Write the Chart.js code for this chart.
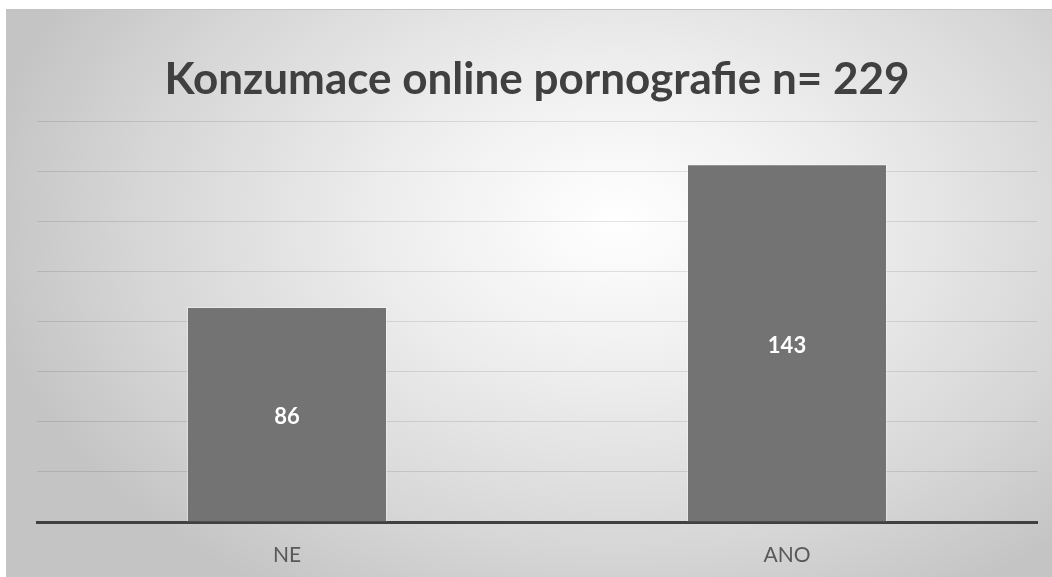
<!DOCTYPE html>
<html>
<head>
<meta charset="utf-8">
<script src="https://cdn.jsdelivr.net/npm/chart.js@4"></script>
<style>
    html, body { margin: 0; padding: 0; background: #ffffff; }
    body { width: 1052px; height: 577px; position: relative; overflow: hidden; }
    #frame {
        position: absolute; left: 6px; top: 9px; width: 1046px; height: 568px;
        box-sizing: border-box;
        border-top: 1px solid #c4c4c4; border-left: 1px solid #c4c4c4;
        background: radial-gradient(ellipse 640px 440px at 610px 210px, #ffffff 0%, #eeeeee 35%, #d6d6d6 75%, #c4c4c4 100%);
    }
    #wrap { position: absolute; left: 0; top: 0; width: 1052px; height: 577px; }
</style>
</head>
<body>
<div id="frame"></div>
<div id="wrap"><canvas id="chart"></canvas></div>
<script>
document.addEventListener("DOMContentLoaded", function () {
    const categories = ["NE", "ANO"];
    const counts = [86, 143];
    const chartTitle = "Konzumace online pornografie n= 229";

    // labels in the middle of each bar, drawn last so the grid stays under them
    const barLabels = {
        id: "barLabels",
        afterDraw(chart) {
            const ctx = chart.ctx;
            const meta = chart.getDatasetMeta(0);
            ctx.save();
            ctx.font = "bold 22px Lato";
            ctx.fillStyle = "#ffffff";
            ctx.textAlign = "center";
            ctx.textBaseline = "middle";
            meta.data.forEach(function (bar, i) {
                ctx.fillText(counts[i], bar.x, (bar.y + bar.base) / 2 + 3);
            });
            ctx.restore();
        }
    };

    const ctx = document.getElementById("chart").getContext("2d");
    new Chart(ctx, {
        type: "bar",
        data: {
            labels: categories,
            datasets: [{
                data: counts,
                backgroundColor: "#737373",
                borderColor: "rgba(255,255,255,0.35)",
                borderWidth: 1,
                categoryPercentage: 0.4,
                barPercentage: 1
            }]
        },
        options: {
            responsive: true,
            maintainAspectRatio: false,
            animation: false,
            layout: { padding: { left: 37, right: 15, top: 0, bottom: 15 } },
            plugins: {
                legend: { display: false },
                tooltip: { enabled: false },
                title: {
                    display: true,
                    text: chartTitle,
                    color: "#404040",
                    font: { family: "Lato", size: 44, weight: "bold" },
                    padding: { top: 53, bottom: 16 }
                }
            },
            scales: {
                x: {
                    grid: { display: false, drawTicks: false },
                    border: { display: true, color: "#404040", width: 3 },
                    ticks: {
                        color: "#595959",
                        font: { family: "Lato", size: 21 },
                        padding: 21
                    },
                    afterFit(scale) { scale.height = 40; }
                },
                y: {
                    min: 0,
                    max: 160,
                    z: 1,
                    grid: { color: "rgba(0,0,0,0.1)", lineWidth: 1, drawTicks: false },
                    border: { display: false },
                    ticks: { display: false, stepSize: 20 }
                }
            }
        },
        plugins: [barLabels]
    });
});
</script>
</body>
</html>
